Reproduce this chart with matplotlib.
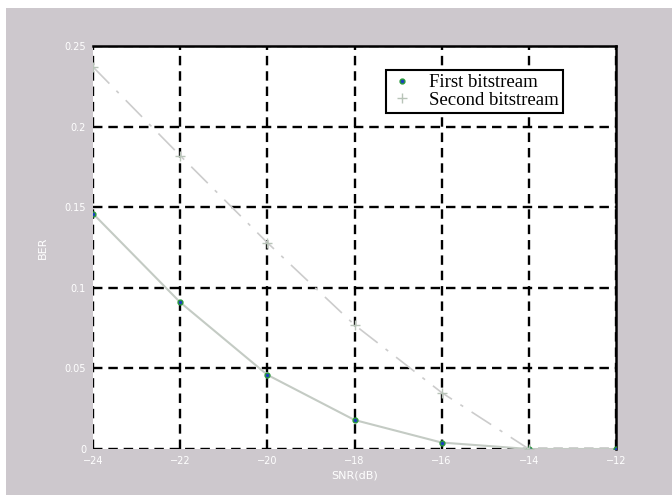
import matplotlib
matplotlib.use("Agg")
import matplotlib.pyplot as plt
from matplotlib.patches import Rectangle

snr = [-24, -22, -20, -18, -16, -14, -12]
ber_first = [0.146, 0.091, 0.046, 0.018, 0.004, 0.0, 0.0]
snr_second = [-24, -22, -20, -18, -16, -14]
ber_second = [0.237, 0.182, 0.128, 0.077, 0.035, 0.0]

xticks = [-24, -22, -20, -18, -16, -14, -12]
yticks = [0, 0.05, 0.1, 0.15, 0.2, 0.25]
ylabels = ["0", "0.05", "0.1", "0.15", "0.2", "0.25"]

fig = plt.figure(figsize=(6.72, 4.95), dpi=100, facecolor="white")
# gray MATLAB-style background, leaving a thin white strip top and left
fig.patches.append(Rectangle((6 / 672, 0), 1, 1 - 8 / 495, transform=fig.transFigure,
                             facecolor="#cdc8cd", edgecolor="none", zorder=-5))

ax = fig.add_axes([93 / 672, 46 / 495, 523 / 672, 403 / 495])
ax.set_facecolor("white")

ax.plot(snr, ber_first, color="#c4cbc4", lw=1.5, marker=".", ms=7,
        mfc="#1a3fbf", mec="#2a9a3a", label="First bitstream", zorder=3)
ax.plot(snr_second, ber_second, color="#cccccc", lw=1.2, ls=(0, (14, 6, 2, 6)),
        marker="+", ms=7, mec="#b8c4b8", label="Second bitstream", zorder=3)

ax.set_xlim(-24, -12)
ax.set_ylim(0, 0.25)
ax.set_xticks(xticks)
ax.set_yticks(yticks)
ax.set_yticklabels(ylabels)
ax.grid(True, color="black", ls=(0, (4, 2.5)), lw=1.7)
ax.tick_params(length=0, colors="white", labelsize=7, pad=5)

for s in ["left", "bottom"]:
    ax.spines[s].set_visible(False)
for s in ["top", "right"]:
    ax.spines[s].set_color("black")
    ax.spines[s].set_linewidth(1.8)

ax.set_xlabel("SNR(dB)", color="white", fontsize=8, labelpad=3)
ax.set_ylabel("BER", color="white", fontsize=8, labelpad=12)

leg = ax.legend(loc="upper left", bbox_to_anchor=(0.56, 0.94), borderaxespad=0,
                fancybox=False, framealpha=1, edgecolor="black", borderpad=0.22,
                labelspacing=0.0, handlelength=1.3, handletextpad=0.8,
                prop={"family": "Liberation Serif", "size": 13.5})
leg.get_frame().set_linewidth(1.5)
for h in leg.legend_handles:
    h.set_linestyle("none")

fig.savefig("out.png", dpi=100, facecolor=fig.get_facecolor())
